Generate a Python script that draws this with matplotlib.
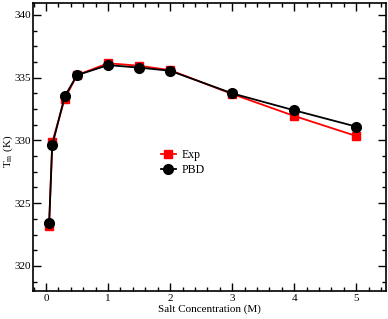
import matplotlib
matplotlib.use("Agg")
import matplotlib.pyplot as plt
from matplotlib.ticker import MultipleLocator

plt.rcParams["font.family"] = ["Liberation Serif", "DejaVu Serif"]
plt.rcParams["mathtext.fontset"] = "stix"

salt = [0.05, 0.1, 0.3, 0.5, 1.0, 1.5, 2.0, 3.0, 4.0, 5.0]
tm_exp = [323.2, 329.85, 333.3, 335.2, 336.15, 335.95, 335.6, 333.7, 331.95, 330.35]
tm_pbd = [323.4, 329.6, 333.5, 335.2, 336.0, 335.8, 335.55, 333.75, 332.4, 331.1]

fig = plt.figure(figsize=(3.88, 3.19), dpi=100)
ax = fig.add_axes([33 / 388, 28 / 319, 353 / 388, 288 / 319])

ax.plot(salt, tm_exp, color="red", marker="s", markersize=6, linewidth=1.3, label="Exp")
ax.plot(salt, tm_pbd, color="black", marker="o", markersize=7, linewidth=1.3, label="PBD")

ax.set_xlim(-0.21, 5.48)
ax.set_ylim(318, 340.95)
ax.xaxis.set_major_locator(MultipleLocator(1))
ax.xaxis.set_minor_locator(MultipleLocator(0.2))
ax.yaxis.set_major_locator(MultipleLocator(5))
ax.yaxis.set_minor_locator(MultipleLocator(1.25))
ax.tick_params(which="both", direction="in", top=True, right=True, labelsize=8)
ax.tick_params(axis="x", pad=2.5)
ax.tick_params(axis="y", pad=1.5)
ax.tick_params(which="major", length=6, width=1)
ax.tick_params(which="minor", length=3, width=1)
for s in ax.spines.values():
    s.set_linewidth(1.2)

ax.set_xlabel("Salt Concentration (M)", fontsize=8, labelpad=0.5)
# y label placed by hand so it sits between the tick labels and the edge
fig.text(8.5 / 388, 1 - 151 / 319, r"T$_{\mathrm{m}}$ (K)", fontsize=8,
         rotation=90, ha="center", va="center")

ax.legend(loc="center", bbox_to_anchor=(0.425, 0.445), frameon=False, fontsize=8.5,
          handlelength=1.2, handletextpad=0.5, labelspacing=0.25)

fig.savefig("out.png", dpi=100)
